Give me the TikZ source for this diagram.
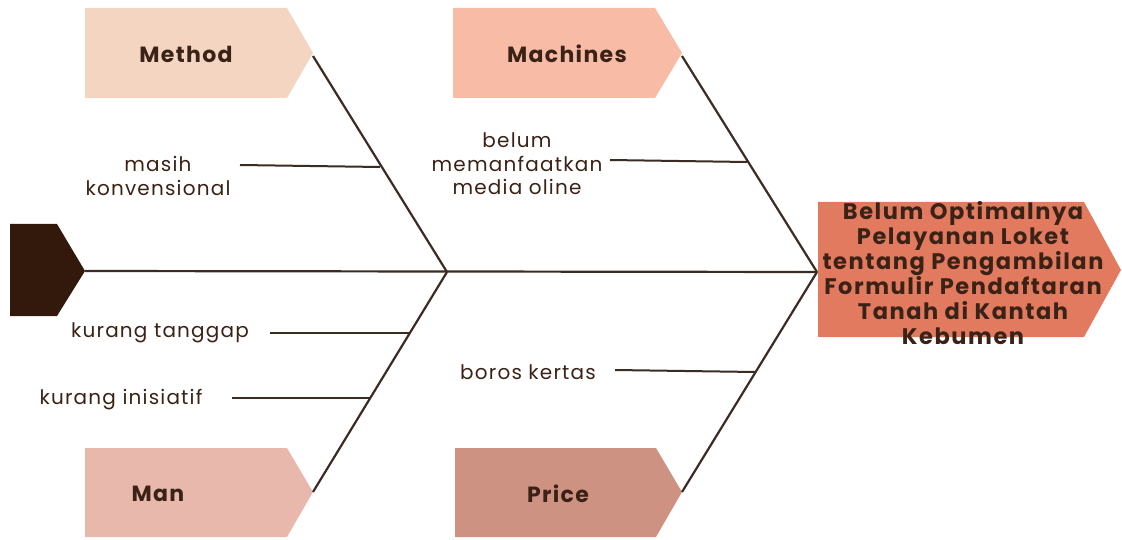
\documentclass[tikz,border=0pt]{standalone}
\usepackage{fontspec}
\setmainfont{Poppins}
\definecolor{ink}{HTML}{3A2216}
\definecolor{bone}{HTML}{3B2B22}
\definecolor{cMethod}{HTML}{F3D5C1}
\definecolor{cMachines}{HTML}{F8BBA5}
\definecolor{cMan}{HTML}{E9B8AC}
\definecolor{cPrice}{HTML}{CE9282}
\definecolor{cHead}{HTML}{E27A5F}
\definecolor{cTail}{HTML}{33190B}
\begin{document}
\begin{tikzpicture}[x=1pt,y=-1pt,
  bonestyle/.style={draw=bone,line width=2.2pt},
  subbone/.style={draw=bone,line width=2pt},
  cattext/.style={font=\bfseries\fontsize{22}{24}\selectfont\addfontfeatures{LetterSpace=6},text=ink,inner sep=0pt},
  causetext/.style={font=\fontsize{20}{23.5}\selectfont\addfontfeatures{LetterSpace=6},text=ink,inner sep=0pt,align=center},
  headtext/.style={font=\bfseries\fontsize{22.5}{25}\selectfont\addfontfeatures{LetterSpace=7},text=ink,inner sep=0pt,align=center}]
\useasboundingbox (0,0) rectangle (1122,540);
% category boxes
\fill[cMethod] (85,8) -- (287,8) -- (313,53) -- (287,98) -- (85,98) -- cycle;
\fill[cMachines] (453,8) -- (655,8) -- (682,53) -- (655,98) -- (453,98) -- cycle;
\fill[cMan] (85,448) -- (287,448) -- (313,492) -- (287,537) -- (85,537) -- cycle;
\fill[cPrice] (455,448) -- (656,448) -- (682,492) -- (656,537) -- (455,537) -- cycle;
\fill[cHead] (818,202) -- (1084,202) -- (1121,270) -- (1084,337) -- (818,337) -- cycle;
\fill[cTail] (10,224) -- (57,224) -- (85,271) -- (57,316) -- (10,316) -- cycle;
% named points
\coordinate (tail) at (85,271);
\coordinate (j1) at (447,272);
\coordinate (j2) at (817,272);
\coordinate (mt) at (313,56);
\coordinate (mat) at (682,56);
\coordinate (mnt) at (313,492);
\coordinate (pt) at (682,492);
% labels
\node[cattext] (method) at (186,54) {Method};
\node[cattext] (machines) at (567,54) {Machines};
\node[cattext] (man) at (158,494) {Man};
\node[cattext] (price) at (558,494) {Price};
\node[headtext] (head) at (963,273) {Belum Optimalnya\\Pelayanan Loket\\tentang Pengambilan\\Formulir Pendaftaran\\Tanah di Kantah\\Kebumen};
% spine and bones
\draw[bonestyle] (tail) -- (j2);
\draw[bonestyle] (mt) -- (j1);
\draw[bonestyle] (mnt) -- (j1);
\draw[bonestyle] (mat) -- (j2);
\draw[bonestyle] (pt) -- (j2);
% causes
\node[causetext] (c1) at (158,176) {masih\\konvensional};
\node[causetext] (c2) at (517,164) {belum\\memanfaatkan\\media oline};
\node[causetext] (c3) at (160,333) {kurang tanggap};
\node[causetext] (c4) at (121,400) {kurang inisiatif};
\node[causetext] (c5) at (528,372) {boros kertas};
\coordinate (b1) at (380,167);
\coordinate (b2) at (747,162);
\coordinate (b3) at (410,333);
\coordinate (b4) at (370,398);
\coordinate (b5) at (755,372);
\draw[subbone] (240,165) -- (b1);
\draw[subbone] (610,160) -- (b2);
\draw[subbone] (270,333) -- (b3);
\draw[subbone] (232,398) -- (b4);
\draw[subbone] (615,370) -- (b5);
\end{tikzpicture}
\end{document}
